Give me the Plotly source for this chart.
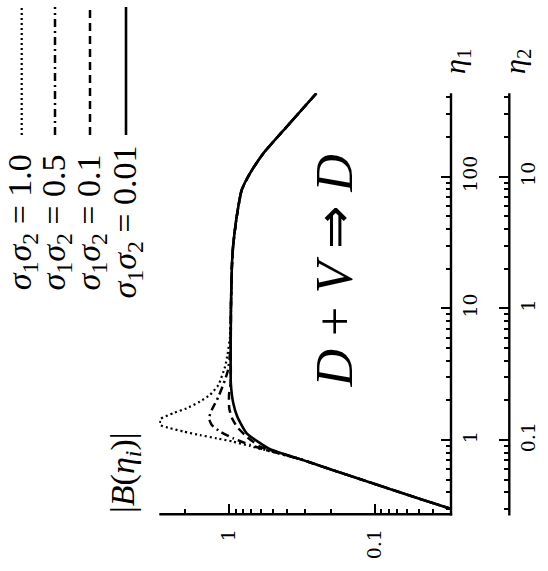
import numpy as np
import plotly.graph_objects as go

W, H = 548, 571

# ---- data: |B(eta_1)| for the four values of sigma1*sigma2 ----
eta_001 = [0.300, 0.360, 0.464, 0.598, 0.716, 0.851, 1.125, 1.50, 1.90, 2.71, 5.0, 10.0, 20.0, 30.0, 49.7, 79.2, 106, 150, 239, 430]
B_001   = [0.030, 0.050, 0.100, 0.200, 0.325, 0.522, 0.755, 0.875, 0.933, 0.970, 0.972, 0.968, 0.955, 0.935, 0.884, 0.817, 0.717, 0.581, 0.402, 0.251]

eta_01 = [0.300, 0.360, 0.464, 0.598, 0.716, 0.851, 0.891, 1.06, 1.26, 1.47, 1.75, 2.20, 2.71, 5.0, 10.0, 20.0, 30.0, 49.7, 79.2, 106, 150, 239, 430]
B_01   = [0.030, 0.050, 0.100, 0.200, 0.325, 0.540, 0.612, 0.755, 0.880, 0.953, 0.995, 0.998, 0.972, 0.972, 0.968, 0.955, 0.935, 0.884, 0.817, 0.717, 0.581, 0.402, 0.251]

eta_05 = [0.300, 0.360, 0.464, 0.598, 0.716, 0.841, 0.918, 1.03, 1.16, 1.30, 1.46, 1.69, 2.13, 2.86, 3.40, 5.0, 10.0, 20.0, 30.0, 49.7, 79.2, 106, 150, 239, 430]
B_05   = [0.030, 0.050, 0.100, 0.200, 0.325, 0.560, 0.717, 0.933, 1.15, 1.31, 1.37, 1.31, 1.18, 1.063, 1.014, 0.975, 0.968, 0.955, 0.935, 0.884, 0.817, 0.717, 0.581, 0.402, 0.251]

eta_10 = [0.300, 0.360, 0.464, 0.598, 0.716, 0.841, 0.90, 0.972, 1.03, 1.09, 1.16, 1.23, 1.30, 1.44, 1.60, 1.74, 1.96, 2.20, 2.62, 3.60, 4.5, 6.0, 10.0, 20.0, 30.0, 49.7, 79.2, 106, 150, 239, 430]
B_10   = [0.030, 0.050, 0.100, 0.200, 0.325, 0.570, 0.717, 0.933, 1.21, 1.58, 2.05, 2.53, 2.95, 2.95, 2.41, 1.95, 1.58, 1.35, 1.18, 1.063, 1.02, 0.985, 0.970, 0.955, 0.935, 0.884, 0.817, 0.717, 0.581, 0.402, 0.251]

legend_labels = ["1.0", "0.5", "0.1", "0.01"]

B_ticks = [0.1, 1]
B_tick_text = ["0.1", "1"]
B_minor = [3, 2, 0.9, 0.8, 0.7, 0.6, 0.5, 0.4, 0.3, 0.2,
           0.09, 0.08, 0.07, 0.06, 0.05, 0.04, 0.03]
eta1_ticks = [1, 10, 100]
eta1_tick_text = ["1", "10", "100"]
eta1_minor = [0.3, 0.4, 0.5, 0.6, 0.7, 0.8, 0.9, 2, 3, 4, 5, 6, 7, 8, 9,
              20, 30, 40, 50, 60, 70, 80, 90, 200, 300, 400]
eta2_ticks = [0.1, 1, 10]
eta2_tick_text = ["0.1", "1", "10"]
eta2_minor = [v / 10 for v in eta1_minor]
eta_ratio = 10  # eta_2 = eta_1 / 10

# ---- styles ----
series = [
    (eta_10, B_10, "2px,3px", 2.2),
    (eta_05, B_05, "8px,4px,2px,4px", 2.5),
    (eta_01, B_01, "8px,5px", 2.5),
    (eta_001, B_001, "solid", 2.6),
]

SERIF = "Liberation Serif"
TICKFONT = "DejaVu Serif"
# frame geometry in page pixels (layout only)
X_LEFT, X_ETA1, X_ETA2 = 159.3, 451.0, 509.3
Y_TOP, Y_BOT = 93.3, 514.3
LW = 2.4

def px(x):
    return x / W

def py(y):
    return 1 - y / H

fig = go.Figure()
for eta, b, dash, w in series:
    fig.add_trace(go.Scatter(x=b, y=eta, mode="lines",
                             line=dict(color="black", width=w, dash=dash,
                                       shape="spline", smoothing=0.5),
                             showlegend=False, hoverinfo="skip"))
# same solid curve expressed in eta_2, invisible: it only carries the eta_2 axis
fig.add_trace(go.Scatter(x=B_001, y=[e / eta_ratio for e in eta_001], yaxis="y2",
                         mode="lines", line=dict(color="black", width=0),
                         opacity=0, showlegend=False, hoverinfo="skip"))

# bottom axis line on a hidden page-sized pixel frame
fig.add_trace(go.Scatter(x=[X_LEFT, X_ETA1 + 1.2], y=[Y_BOT, Y_BOT],
                         xaxis="x3", yaxis="y3", mode="lines",
                         line=dict(color="black", width=LW),
                         cliponaxis=False, showlegend=False, hoverinfo="skip"))

# vertical axis lines as thin filled bars (paper coordinates)
for xv in (X_ETA1, X_ETA2):
    fig.add_shape(type="rect", xref="paper", yref="paper", layer="above",
                  x0=px(xv - LW / 2), x1=px(xv + LW / 2),
                  y0=py(Y_BOT + LW / 2), y1=py(Y_TOP),
                  fillcolor="black", line=dict(width=0))

def axis_style():
    return dict(showgrid=False, zeroline=False, showline=False,
                ticks="inside", ticklen=10, tickwidth=1.6,
                tickcolor="black", tickangle=-90, automargin=False,
                tickfont=dict(family=TICKFONT, size=19, color="black"))

def minor_style(vals):
    return dict(tickvals=vals, ticks="inside", ticklen=5, tickwidth=1.6,
                tickcolor="black", showgrid=False)

fig.update_layout(
    width=W, height=H,
    margin=dict(l=0, r=0, t=0, b=0),
    paper_bgcolor="white", plot_bgcolor="rgba(0,0,0,0)",
    xaxis=dict(type="log", range=[np.log10(3), np.log10(0.03)],
               domain=[px(X_LEFT), px(X_ETA1)], anchor="y",
               tickvals=B_ticks, ticktext=B_tick_text, ticklabelstandoff=10,
               minor=minor_style(B_minor), **axis_style()),
    yaxis=dict(type="log", range=[-0.564, 2.633],
               domain=[py(Y_BOT), py(Y_TOP)], anchor="free",
               position=px(X_ETA1), side="right",
               tickvals=eta1_ticks, ticktext=eta1_tick_text, ticklabelstandoff=6,
               minor=minor_style(eta1_minor), **axis_style()),
    yaxis2=dict(type="log", range=[-1.564, 1.633], overlaying="y",
                anchor="free", position=px(X_ETA2), side="right",
                tickvals=eta2_ticks, ticktext=eta2_tick_text, ticklabelstandoff=6,
                minor=minor_style(eta2_minor), **axis_style()),
    xaxis3=dict(visible=False, range=[0, W], domain=[0, 1], anchor="y3",
                fixedrange=True),
    yaxis3=dict(visible=False, range=[H, 0], domain=[0, 1], anchor="x3",
                fixedrange=True),
)

annotations = [
    dict(x=px(125), y=py(473), text="|<i>B</i>(<i>η<sub>i</sub></i>)|",
         font=dict(family=SERIF, size=34, color="black")),
    dict(x=px(457), y=py(62), text="<i>η</i><sub>1</sub>",
         font=dict(family=SERIF, size=30, color="black")),
    dict(x=px(517), y=py(62), text="<i>η</i><sub>2</sub>",
         font=dict(family=SERIF, size=30, color="black")),
    dict(x=px(334), y=py(271.5), text="<i>D</i> + <i>V</i> ⇒ <i>D</i>",
         font=dict(family=SERIF, size=52, color="black")),
]
leg_x = [21.7, 55, 90, 126]
for lx, lab, (eta, b, dash, w) in zip(leg_x, legend_labels, series):
    annotations.append(dict(x=px(lx), y=py(222.5),
                            text=f"<i>σ</i><sub>1</sub><i>σ</i><sub>2</sub> = {lab}",
                            font=dict(family=SERIF, size=34, color="black")))
    fig.add_shape(type="line", xref="paper", yref="paper",
                  x0=px(lx), x1=px(lx), y0=py(135), y1=py(7),
                  line=dict(color="black", width=w, dash=dash))

for a in annotations:
    a.update(xref="paper", yref="paper", showarrow=False, textangle=-90,
             xanchor="center", yanchor="middle")
fig.update_layout(annotations=annotations)

fig.write_html("out.html")
